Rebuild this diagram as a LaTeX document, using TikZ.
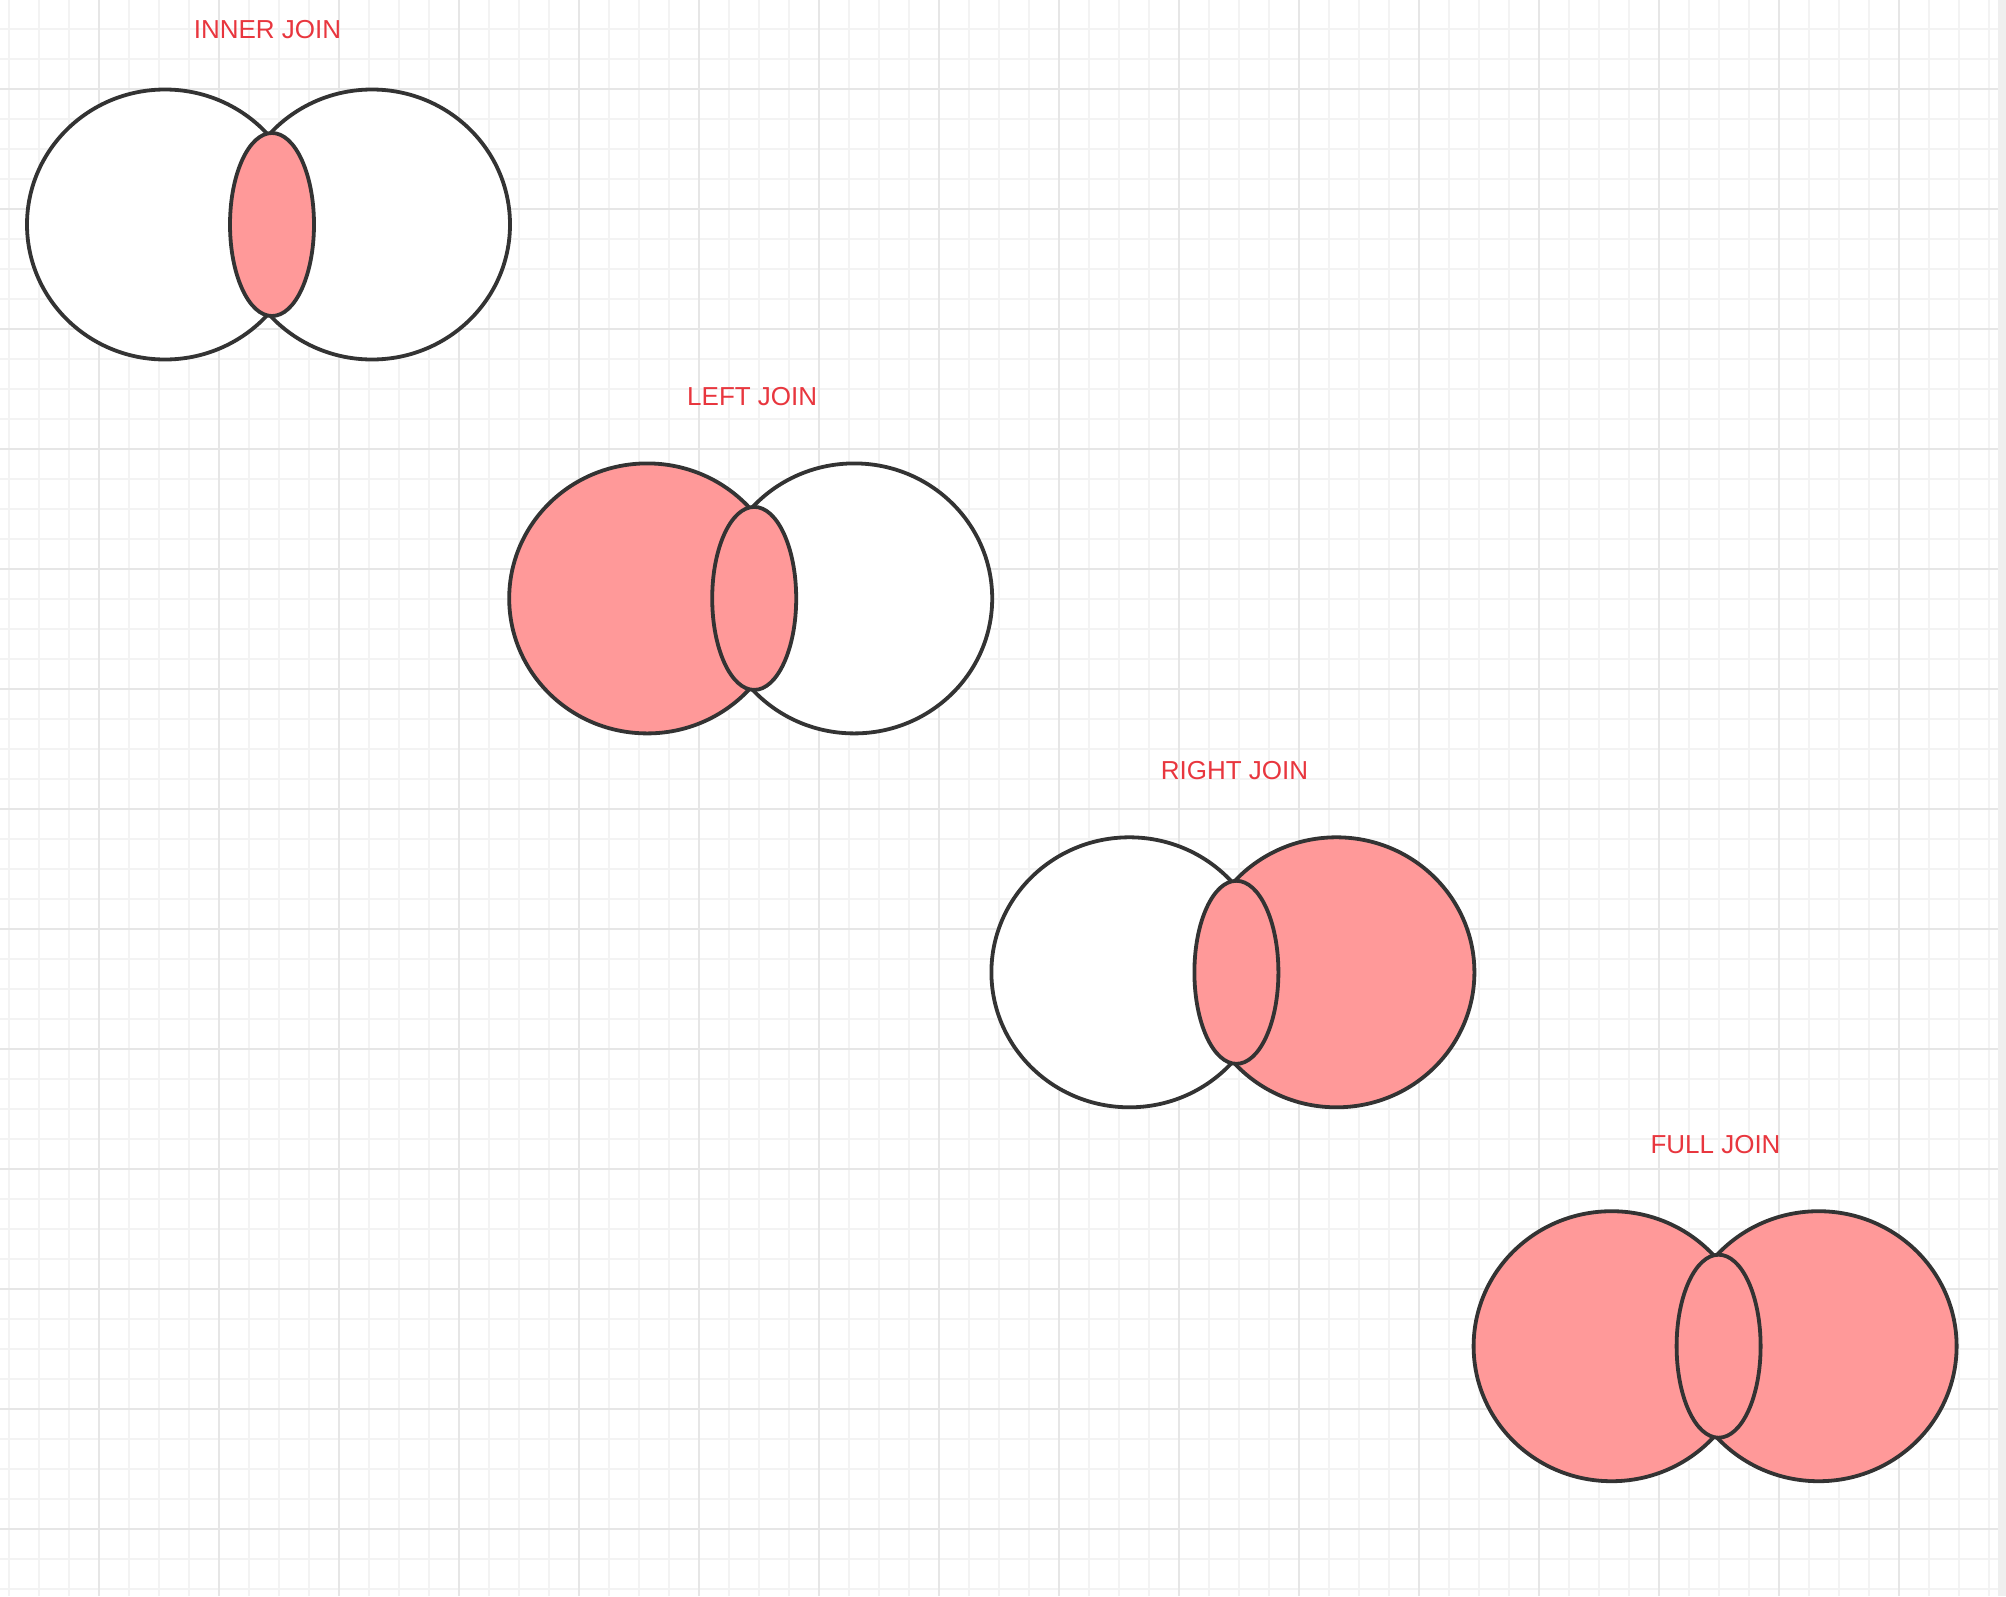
\documentclass[tikz,border=0pt]{standalone}
\usepackage{fontspec}
\setmainfont{Liberation Sans}
\usetikzlibrary{shapes.geometric}

\definecolor{setline}{HTML}{333333}
\definecolor{setpink}{HTML}{FF9999}
\definecolor{labelred}{HTML}{E8363E}
\definecolor{gridminor}{HTML}{F3F3F3}
\definecolor{gridmajor}{HTML}{E6E6E6}
\definecolor{edgestrip}{HTML}{EFEFEF}

\begin{document}
\begin{tikzpicture}[
    x=0.5pt, y=-0.5pt,   % one unit = one pixel, y going down
    bigset/.style={ellipse, draw=setline, line width=1.9pt, minimum width=138pt, minimum height=135pt, inner sep=0pt, fill=white},
    midset/.style={ellipse, draw=setline, line width=1.9pt, minimum width=42pt, minimum height=91.5pt, inner sep=0pt, fill=white},
    hit/.style={fill=setpink},
    joinlabel/.style={text=labelred, font=\fontsize{13}{15}\selectfont, inner sep=0pt},
    minorline/.style={gridminor, line width=1pt},
    majorline/.style={gridmajor, line width=1pt}
  ]

  \useasboundingbox (0,0) rectangle (2006,1596);

  % --- BACKGROUND GRID ---
  \foreach \x in {9,39,...,1989} \draw[minorline] (\x,0) -- (\x,1596);
  \foreach \y in {29,59,...,1589} \draw[minorline] (0,\y) -- (1998,\y);
  \foreach \x in {99,219,...,1899} \draw[majorline] (\x,0) -- (\x,1596);
  \foreach \y in {89,209,...,1529} \draw[majorline] (0,\y) -- (1998,\y);
  \fill[edgestrip] (1998,0) rectangle (2006,1596);

  % --- INNER JOIN ---
  \node[joinlabel] (innerTitle) at (267.5,29.7) {INNER JOIN};
  \node[bigset] (innerL) at (165,224.5) {};
  \node[bigset] (innerR) at (372,224.5) {};
  \node[midset, hit] (innerM) at (272,224.5) {};

  % --- LEFT JOIN ---
  \node[joinlabel] (leftTitle) at (752.2,397) {LEFT JOIN};
  \node[bigset, hit] (leftL) at (647.2,598.4) {};
  \node[bigset] (leftR) at (854.2,598.4) {};
  \node[midset, hit] (leftM) at (754.2,598.4) {};

  % --- RIGHT JOIN ---
  \node[joinlabel] (rightTitle) at (1234.5,770.3) {RIGHT JOIN};
  \node[bigset] (rightL) at (1129.4,972.3) {};
  \node[bigset, hit] (rightR) at (1336.4,972.3) {};
  \node[midset, hit] (rightM) at (1236.4,972.3) {};

  % --- FULL JOIN ---
  \node[joinlabel] (fullTitle) at (1715.5,1144.6) {FULL JOIN};
  \node[bigset, hit] (fullL) at (1611.6,1346.2) {};
  \node[bigset, hit] (fullR) at (1818.6,1346.2) {};
  \node[midset, hit] (fullM) at (1718.6,1346.2) {};

\end{tikzpicture}
\end{document}
